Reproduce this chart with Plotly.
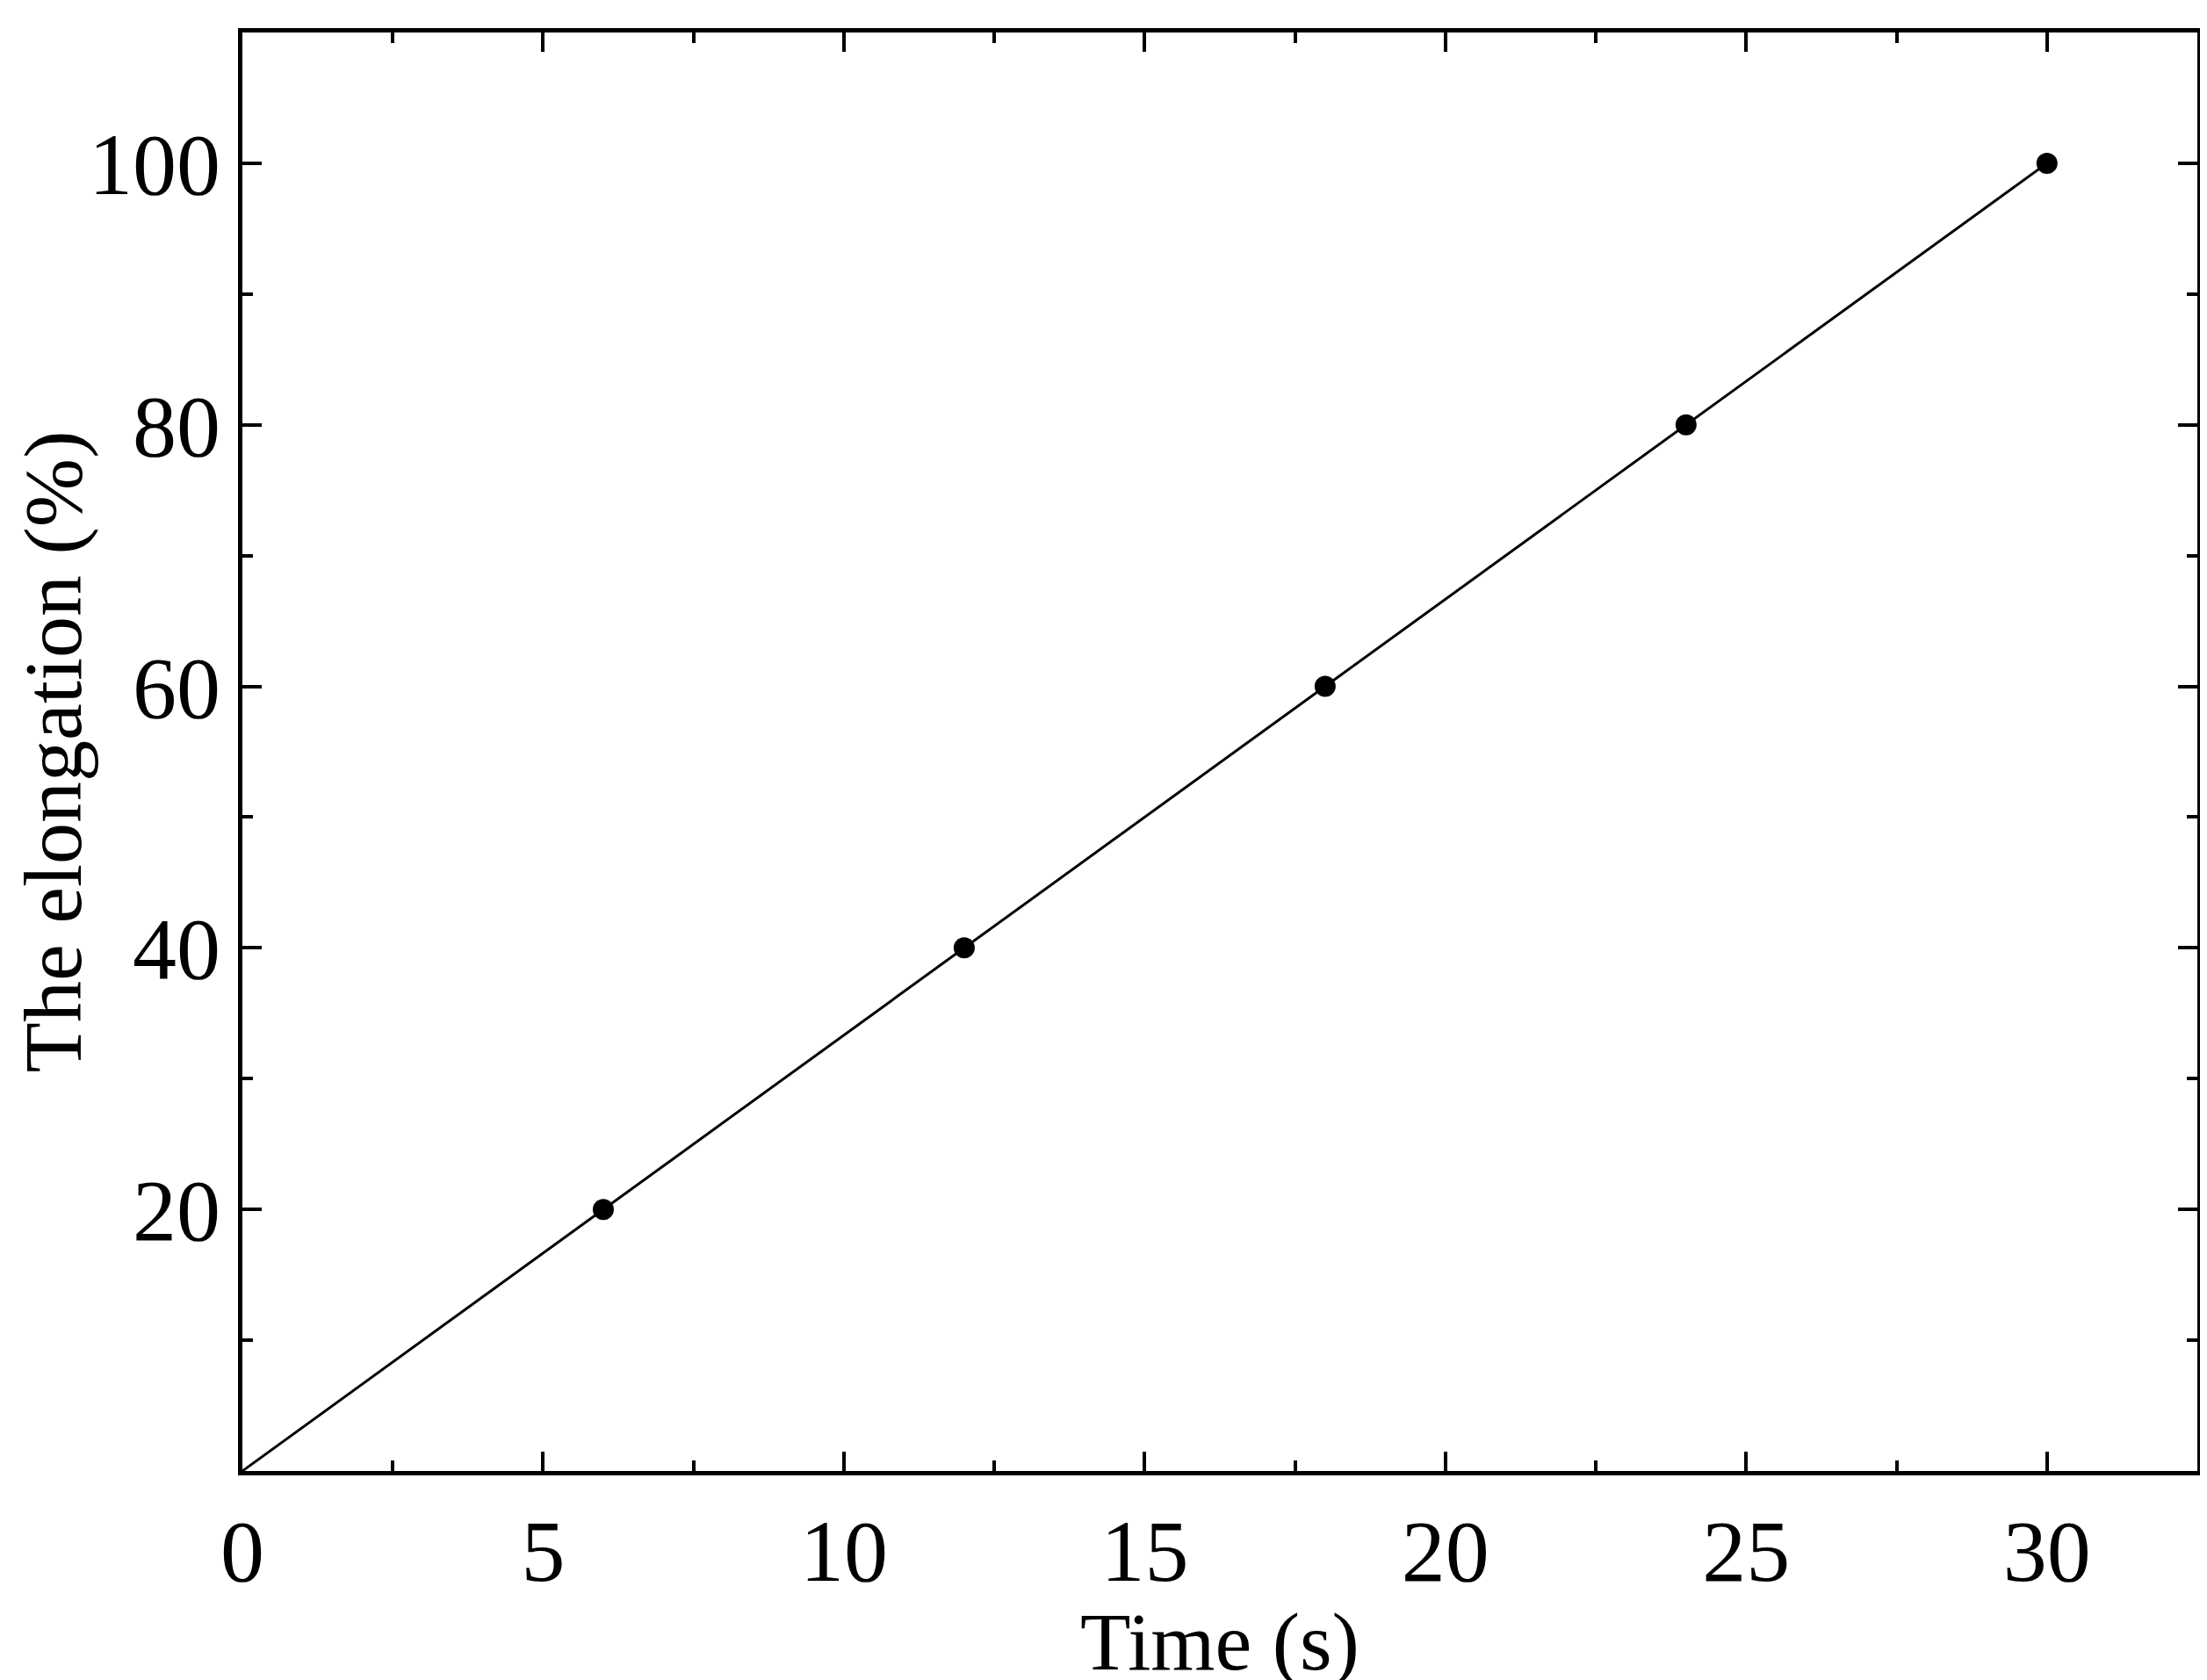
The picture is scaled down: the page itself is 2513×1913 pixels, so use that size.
import plotly.graph_objects as go

# data
time_s = [0, 6, 12, 18, 24, 30]
elongation = [0, 20, 40, 60, 80, 100]
marker_time = [6, 12, 18, 24, 30]
marker_elong = [20, 40, 60, 80, 100]

x_ticks = [0, 5, 10, 15, 20, 25, 30]
y_ticks = [20, 40, 60, 80, 100]

font = "Liberation Serif"

fig = go.Figure()
fig.add_trace(go.Scatter(x=time_s, y=elongation, mode="lines",
                         line=dict(color="black", width=3), showlegend=False))
fig.add_trace(go.Scatter(x=marker_time, y=marker_elong, mode="markers",
                         marker=dict(color="black", size=24), showlegend=False))

axis_common = dict(
    showline=True, linecolor="black", linewidth=5, mirror="ticks",
    ticks="inside", ticklen=22, tickwidth=4, tickcolor="black",
    showgrid=False, zeroline=False,
    tickfont=dict(family=font, size=100, color="black"),
)

fig.update_xaxes(range=[0, 32.5], tickvals=x_ticks,
                 minor=dict(ticks="inside", dtick=2.5, tick0=0, ticklen=12,
                            tickwidth=4, tickcolor="black"),
                 title=dict(text="Time (s)", font=dict(family=font, size=94, color="black"),
                            standoff=0),
                 **axis_common)
fig.update_yaxes(range=[0, 110], tickvals=y_ticks,
                 minor=dict(ticks="inside", dtick=10, tick0=0, ticklen=12,
                            tickwidth=4, tickcolor="black"),
                 title=dict(text="The elongation (%)", font=dict(family=font, size=94, color="black"),
                            standoff=15),
                 **axis_common)

fig.update_layout(
    width=2513, height=1913,
    plot_bgcolor="white", paper_bgcolor="white",
    margin=dict(l=255, r=19, t=29, b=246),
)

fig.write_html("out.html")
